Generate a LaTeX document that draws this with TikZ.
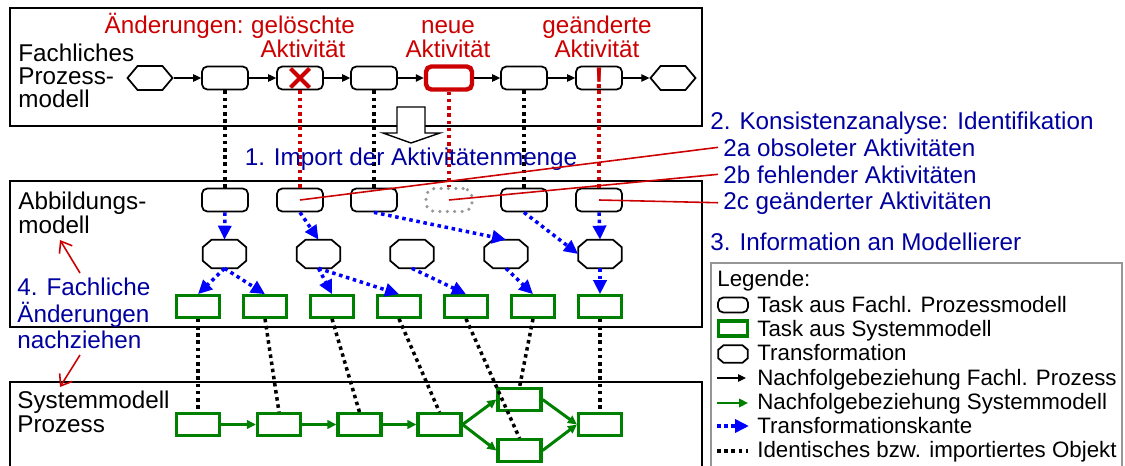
\documentclass[tikz,border=0pt]{standalone}
\usepackage{fontspec}
\setmainfont{Liberation Sans}
\usetikzlibrary{arrows.meta,shapes.symbols}
\definecolor{aendrot}{RGB}{204,0,0}
\definecolor{schriftblau}{RGB}{0,0,160}
\definecolor{kantenblau}{RGB}{0,0,255}
\definecolor{sysgruen}{RGB}{0,128,0}
\definecolor{fehltgrau}{RGB}{150,150,150}
\tikzset{
  txt/.style={inner sep=0pt, font=\fontsize{13.8}{13.2}\selectfont, align=left},
  blautxt/.style={txt, text=schriftblau},
  rottxt/.style={txt, text=aendrot, align=center, font=\fontsize{13.8}{14.2}\selectfont},
  legtxt/.style={inner sep=0pt, font=\fontsize{12.7}{14}\selectfont, anchor=base west},
  fachtask/.style={draw, line width=1pt, rounded corners=3pt, minimum width=0.92cm, minimum height=0.46cm, inner sep=0pt},
  systask/.style={draw=sysgruen, line width=1.8pt, minimum width=0.86cm, minimum height=0.43cm, inner sep=0pt},
  trafo/.style={minimum width=0.86cm, minimum height=0.56cm, inner sep=0pt,
    append after command={\pgfextra{\draw[line width=1pt]
      ([xshift=#1]\tikzlastnode.north west) -- ([xshift=-#1]\tikzlastnode.north east)
      -- ([yshift=-0.85*#1]\tikzlastnode.north east) -- ([yshift=0.85*#1]\tikzlastnode.south east)
      -- ([xshift=-#1]\tikzlastnode.south east) -- ([xshift=#1]\tikzlastnode.south west)
      -- ([yshift=0.85*#1]\tikzlastnode.south west) -- ([yshift=-0.85*#1]\tikzlastnode.north west) -- cycle;}}},
  trafo/.default=0.18cm,
  startend/.style={draw, line width=1pt, signal, signal to=east and west, signal pointer angle=100, minimum width=0.9cm, minimum height=0.48cm, inner sep=0pt},
  fachfolge/.style={line width=0.7pt, -{Triangle[length=0.16cm,width=0.15cm]}},
  sysfolge/.style={sysgruen, line width=1.7pt, -{Triangle[length=0.18cm,width=0.17cm]}},
  trafokante/.style={kantenblau, line width=2pt, dash pattern=on 2pt off 2.1pt, -{Triangle[length=0.28cm,width=0.26cm]}},
  ident/.style={line width=2pt, dash pattern=on 2pt off 2.1pt},
  aendlink/.style={ident, aendrot},
  aendlinie/.style={aendrot, line width=0.9pt},
  rotpfeil/.style={aendrot, line width=0.9pt, -{Straight Barb[length=0.2cm,width=0.3cm]}},
}
\begin{document}
\begin{tikzpicture}[x=0.02cm, y=-0.02cm]
\useasboundingbox (0,0) rectangle (1125,466);
% Rahmen der drei Modelle
\draw[line width=0.8pt] (10,8) rectangle (702,126);
\draw[line width=0.8pt] (10,181) rectangle (702,327);
\draw[line width=0.8pt] (10,470) -- (10,382) -- (702,382) -- (702,470);
\draw[fehltgrau, line width=0.8pt] (711,470) -- (711,263) -- (1122,263) -- (1122,470);

% Fachliches Prozessmodell
\node[startend] (fstart) at (150,78) {};
\node[fachtask] (f1) at (225,78) {};
\node[fachtask] (f2) at (300,78) {};
\node[fachtask] (f3) at (374,78) {};
\node[fachtask, draw=aendrot, line width=2.5pt] (f4) at (449,78) {};
\node[fachtask] (f5) at (524,78) {};
\node[fachtask, text=aendrot, font=\fontsize{17}{17}\selectfont\bfseries] (f6) at (599,78) {!};
\node[startend] (fend) at (673,78) {};
\foreach \a/\b in {fstart/f1,f1/f2,f2/f3,f3/f4,f4/f5,f5/f6,f6/fend}
  \draw[fachfolge] (\a) -- (\b);
\draw[aendrot, line width=2.3pt] ([xshift=-0.19cm,yshift=0.19cm]f2.center) -- ([xshift=0.19cm,yshift=-0.19cm]f2.center);
\draw[aendrot, line width=2.3pt] ([xshift=-0.19cm,yshift=-0.19cm]f2.center) -- ([xshift=0.19cm,yshift=0.19cm]f2.center);

% Import-Pfeil
\draw[fill=white, line width=0.8pt] (397,107) -- (425,107) -- (425,133) -- (440,133) -- (411,143) -- (383,133) -- (397,133) -- cycle;

% Abbildungsmodell
\node[fachtask] (a1) at (225,200) {};
\node[fachtask] (a2) at (300,200) {};
\node[fachtask] (a3) at (374,200) {};
\node[fachtask, draw=fehltgrau, line width=2pt, dash pattern=on 0pt off 4.2pt, line cap=round, rounded corners=5pt] (a4) at (449,200) {};
\node[fachtask] (a5) at (524,200) {};
\node[fachtask] (a6) at (599,200) {};

\node[trafo] (t1) at (224.5,254) {};
\node[trafo] (t2) at (318.5,254) {};
\node[trafo] (t3) at (412,254) {};
\node[trafo] (t4) at (506,254) {};
\node[trafo] (t5) at (600,254) {};

\node[systask] (g1) at (198,306.5) {};
\node[systask] (g2) at (265,306.5) {};
\node[systask] (g3) at (332,306.5) {};
\node[systask] (g4) at (399,306.5) {};
\node[systask] (g5) at (466,306.5) {};
\node[systask] (g6) at (533,306.5) {};
\node[systask] (g7) at (600,306.5) {};

% Systemmodell
\node[systask] (s1) at (198,424.5) {};
\node[systask] (s2) at (279,424.5) {};
\node[systask] (s3) at (359.5,424.5) {};
\node[systask] (s4) at (439.5,424.5) {};
\node[systask] (s5o) at (519.5,399.5) {};
\node[systask] (s5u) at (519.5,450.5) {};
\node[systask] (s6) at (600,424.5) {};
\draw[sysfolge] (s1) -- (s2);
\draw[sysfolge] (s2) -- (s3);
\draw[sysfolge] (s3) -- (s4);
\draw[sysfolge] (s4.east) -- (s5o.west);
\draw[sysfolge] (s4.east) -- (s5u.west);
\draw[sysfolge] (s5o.east) -- (s6.west);
\draw[sysfolge] (s5u.east) -- (s6.west);

% Identitaet und Import
\foreach \a/\b in {f1/a1,f3/a3,f5/a5}
  \draw[ident] (\a.south) -- (\b.north);
\foreach \a/\b in {f2/a2,f4/a4,f6/a6}
  \draw[aendlink] (\a.south) -- (\b.north);
\foreach \a/\b in {g1/s1,g2/s2,g3/s3,g4/s4,g5/s5u,g6/s5o,g7/s6}
  \draw[ident] (\a.south) -- (\b.north);

% Transformationskanten
\foreach \a/\b in {a1/t1.north,a2/t2.north,a3/t4.north,a5/t5.west,a6/t5.north}
  \draw[trafokante] (\a.south) -- (\b);
\foreach \a/\b in {t1/g1,t1/g2,t2/g3,t2/g4,t3/g5,t4/g6,t5/g7}
  \draw[trafokante] (\a.south) -- (\b.north);

% Beschriftungen
\node[txt, anchor=base west] (lfach) at (18,108) {Fachliches\\Prozess-\\modell};
\node[txt, anchor=base west] (labb) at (18,233) {Abbildungs-\\modell};
\node[blautxt, anchor=base west, font=\fontsize{13.8}{14.8}\selectfont] (lnach) at (17,348) {4. Fachliche\\Änderungen\\nachziehen};
\node[txt, anchor=base west] (lsys) at (17,432) {Systemmodell\\Prozess};
\coordinate (pa1) at (80,273);
\coordinate (pa2) at (60,240);
\coordinate (pb1) at (80,355);
\coordinate (pb2) at (60,387);
\draw[rotpfeil] (pa1) -- (pa2);
\draw[rotpfeil] (pb1) -- (pb2);

\node[rottxt, anchor=base] (lgel) at (303,58) {gelöschte\\Aktivität};
\node[rottxt, anchor=base east] (laend) at ([xshift=-0.136cm,yshift=14.2pt]lgel.base west) {Änderungen:};
\node[rottxt, anchor=base] (lneu) at (448,58) {neue\\Aktivität};
\node[rottxt, anchor=base] (lgeae) at (597,58) {geänderte\\Aktivität};

\node[blautxt, anchor=base] (limport) at (411,165) {1. Import der Aktivitätenmenge};
\node[blautxt, anchor=base west] (lkons) at (710,130) {2. Konsistenzanalyse: Identifikation};
\node[blautxt, anchor=base west, inner xsep=0.1cm] (l2a) at (718,156) {2a obsoleter Aktivitäten};
\node[blautxt, anchor=base west, inner xsep=0.1cm] (l2b) at (718,183) {2b fehlender Aktivitäten};
\node[blautxt, anchor=base west, inner xsep=0.1cm] (l2c) at (718,209) {2c geänderter Aktivitäten};
\node[blautxt, anchor=base west] (linfo) at (710,250) {3. Information an Modellierer};
\draw[aendlinie] (a2.center) -- (l2a.west);
\draw[aendlinie] (a4.center) -- (l2b.west);
\draw[aendlinie] (a6.center) -- (l2c.west);

% Legende
\node[legtxt] (lleg) at (717,286) {Legende:};
\node[fachtask, minimum width=0.6cm, minimum height=0.3cm] (symfach) at (733,305) {};
\node[systask, minimum width=0.58cm, minimum height=0.3cm] (symsys) at (733,328.5) {};
\node[trafo=0.11cm, minimum width=0.58cm, minimum height=0.34cm] (symtrafo) at (733,354) {};
\draw[fachfolge] (717,378) -- (746,378);
\draw[sysfolge] (717,403) -- (748,403);
\draw[trafokante] (717,426) -- (749,426);
\draw[ident] (717,451) -- (748,451);
\foreach \y/\t in {312/Task aus Fachl. Prozessmodell,336/Task aus Systemmodell,360/Transformation,385/Nachfolgebeziehung Fachl. Prozess,409/Nachfolgebeziehung Systemmodell,433/Transformationskante,457/Identisches bzw. importiertes Objekt}
  \node[legtxt] (leg\y) at (757,\y) {\t};
\end{tikzpicture}
\end{document}
